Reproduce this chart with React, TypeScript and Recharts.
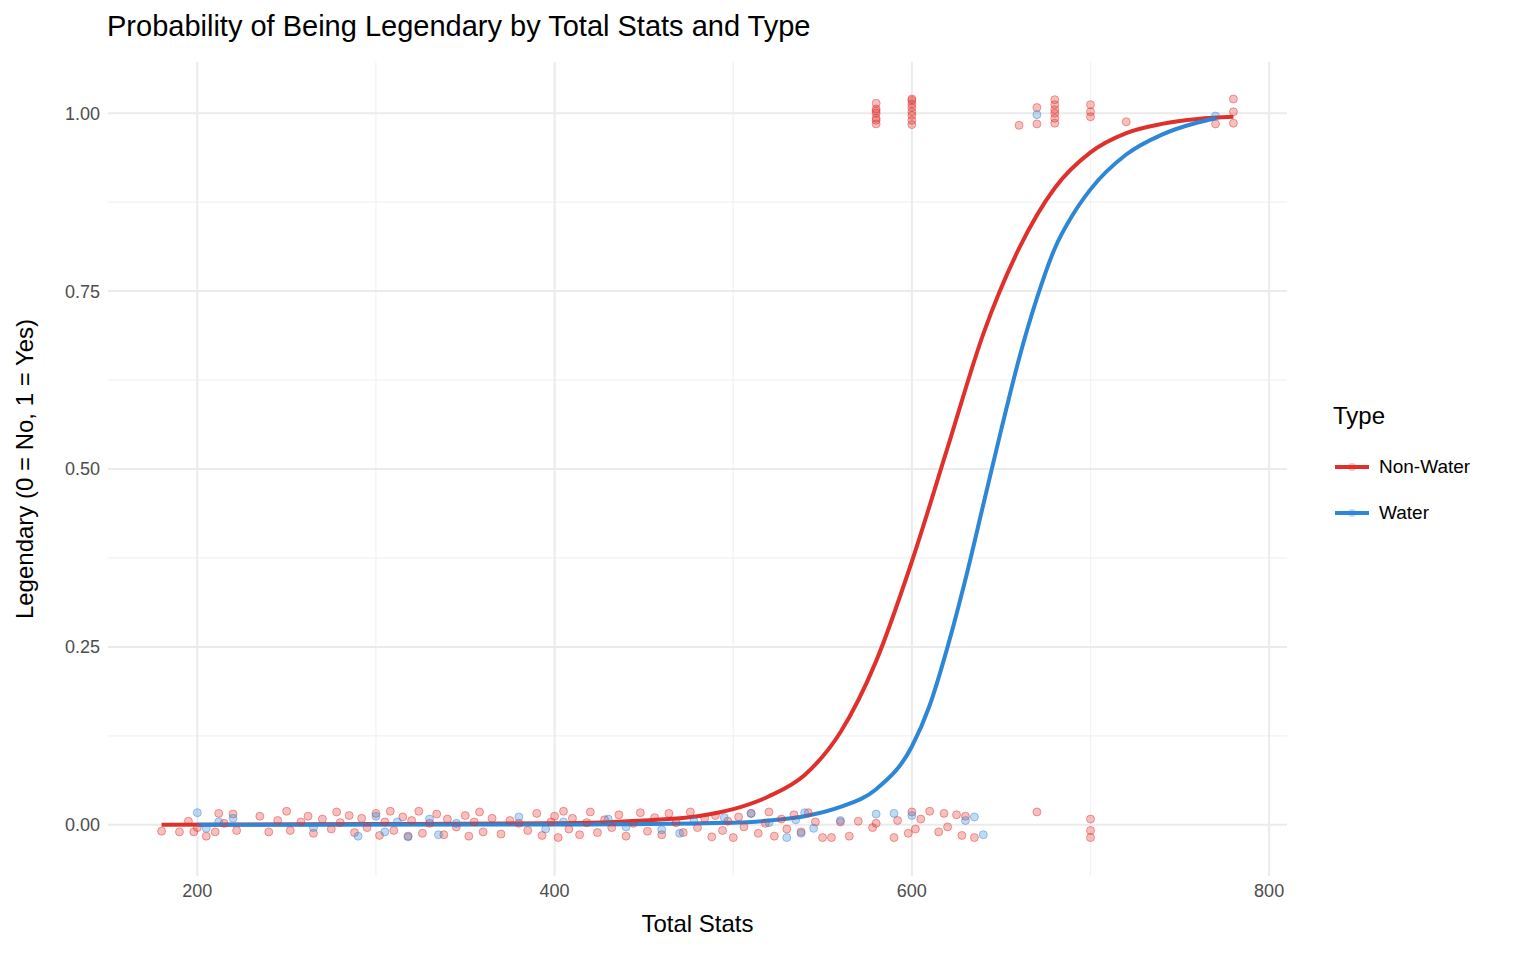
import { ComposedChart, Line, Scatter, XAxis, YAxis, ReferenceLine } from 'recharts';

const RED = '#E0302C';
const BLUE = '#2E86D6';

const xTicks = [200, 400, 600, 800];
const xMinor = [300, 500, 700];
const yTicks = [0, 0.25, 0.5, 0.75, 1];
const yMinor = [0.125, 0.375, 0.625, 0.875];

const nonWaterCurve = [
  { x: 180, y: 0 }, { x: 300, y: 0.001 }, { x: 400, y: 0.002 }, { x: 450, y: 0.006 },
  { x: 480, y: 0.012 }, { x: 500, y: 0.022 }, { x: 520, y: 0.04 }, { x: 540, y: 0.07 },
  { x: 560, y: 0.13 }, { x: 580, y: 0.23 }, { x: 600, y: 0.37 }, { x: 620, y: 0.53 },
  { x: 640, y: 0.69 }, { x: 660, y: 0.81 }, { x: 680, y: 0.895 }, { x: 700, y: 0.945 },
  { x: 720, y: 0.972 }, { x: 740, y: 0.985 }, { x: 760, y: 0.992 }, { x: 780, y: 0.995 },
];

const waterCurve = [
  { x: 200, y: 0 }, { x: 400, y: 0.0005 }, { x: 500, y: 0.003 }, { x: 520, y: 0.006 },
  { x: 540, y: 0.012 }, { x: 560, y: 0.025 }, { x: 580, y: 0.05 }, { x: 600, y: 0.11 },
  { x: 610, y: 0.168 }, { x: 620, y: 0.25 }, { x: 630, y: 0.345 }, { x: 640, y: 0.45 },
  { x: 650, y: 0.555 }, { x: 660, y: 0.655 }, { x: 670, y: 0.74 }, { x: 680, y: 0.81 },
  { x: 690, y: 0.857 }, { x: 700, y: 0.893 }, { x: 720, y: 0.942 }, { x: 740, y: 0.97 }, { x: 760, y: 0.987 }, { x: 770, y: 0.993 },
];

const nonWaterPoints = [
  [180, -0.009], [190, -0.01], [195, 0.005], [198, -0.01], [200, -0.004], [205, -0.016], [210, -0.01], [212, 0.016],
  [215, 0.002], [220, 0.015], [222, -0.008], [235, 0.012], [240, -0.01], [245, 0.006], [250, 0.019], [252, -0.008],
  [258, 0.004], [262, 0.012], [265, -0.012], [270, 0.008], [275, -0.006], [278, 0.018], [280, 0.003], [285, 0.013],
  [288, -0.011], [292, 0.009], [295, -0.004], [300, 0.016], [302, -0.015], [305, 0.004], [308, 0.019], [310, -0.008],
  [315, 0.011], [318, -0.016], [320, 0.006], [324, 0.019], [326, -0.012], [330, 0.002], [334, 0.015], [338, -0.014],
  [340, 0.008], [345, -0.003], [350, 0.013], [352, -0.016], [355, 0.004], [358, 0.018], [360, -0.01], [365, 0.009],
  [370, -0.013], [375, 0.006], [380, 0.002], [385, -0.008], [390, 0.016], [393, -0.015], [398, 0.004], [400, 0.012],
  [402, -0.018], [405, 0.019], [408, -0.006], [410, 0.009], [414, -0.014], [418, 0.003], [420, 0.018], [424, -0.011],
  [428, 0.007], [432, -0.004], [436, 0.014], [440, -0.016], [444, 0.002], [448, 0.017], [452, -0.009], [456, 0.01],
  [460, -0.014], [464, 0.016], [468, 0.003], [472, -0.011], [476, 0.018], [480, -0.004], [484, 0.009], [488, -0.017],
  [490, 0.013], [494, -0.008], [497, 0.005], [500, -0.018], [503, 0.011], [506, -0.003], [510, 0.016], [514, -0.012],
  [518, 0.002], [520, 0.018], [523, -0.016], [527, 0.008], [530, -0.006], [534, 0.014], [538, -0.01], [542, 0.017],
  [546, 0.004], [550, -0.018], [555, -0.018], [560, 0.004], [565, -0.016], [570, 0.005], [578, -0.004], [580, 0.002],
  [590, -0.018], [592, 0.006], [598, -0.012], [600, 0.018], [602, -0.006], [605, 0.008], [610, 0.019], [615, -0.01],
  [618, 0.016], [620, -0.003], [625, 0.014], [628, -0.015], [630, 0.012], [635, -0.018], [670, 0.018], [700, 0.008],
  [700, -0.008], [700, -0.018],
  [580, 0.985], [580, 0.993], [580, 1.0], [580, 1.006], [580, 1.014], [580, 0.99], [580, 1.003],
  [600, 0.984], [600, 0.99], [600, 0.997], [600, 1.002], [600, 1.008], [600, 1.013], [600, 1.018], [600, 1.02],
  [660, 0.983], [670, 0.985], [670, 1.008], [680, 0.986], [680, 0.993], [680, 1.0], [680, 1.005], [680, 1.012], [680, 1.019],
  [700, 0.995], [700, 1.002], [700, 1.012], [720, 0.988], [770, 0.985], [780, 0.986], [780, 1.002], [780, 1.02],
].map(([x, y]) => ({ x, y }));

const waterPoints = [
  [200, 0.017], [205, -0.005], [212, 0.004], [220, 0.009], [265, -0.004], [290, -0.016], [300, 0.012], [305, -0.01],
  [312, 0.004], [318, -0.017], [330, 0.008], [335, -0.014], [345, 0.002], [380, 0.011], [395, -0.006], [405, 0.004],
  [430, 0.008], [440, -0.003], [460, -0.007], [470, -0.012], [478, 0.005], [495, 0.01], [510, 0.016], [520, 0.003],
  [530, -0.018], [535, 0.007], [538, -0.012], [540, 0.017], [545, -0.005], [560, 0.006], [580, 0.015], [590, 0.016],
  [600, 0.013], [630, 0.006], [635, 0.011], [640, -0.014], [670, 0.998], [770, 0.996],
].map(([x, y]) => ({ x, y }));

const dot = (color: string) => (p: any) => (
  <circle cx={p.cx} cy={p.cy} r={4} fill={color} fillOpacity={0.3} stroke={color} strokeOpacity={0.45} strokeWidth={1} />
);

export default function App() {
  return (
    <div style={{ position: 'absolute', left: 0, top: 0, width: 1536, height: 960, background: '#fff', fontFamily: 'Helvetica, Arial, "Liberation Sans", sans-serif' }}>
      <div style={{ position: 'absolute', left: 107, top: 10, fontSize: 29, color: '#000' }}>
        Probability of Being Legendary by Total Stats and Type
      </div>
      <ComposedChart width={1536} height={960} margin={{ top: 62, right: 249, bottom: 24, left: 48 }}>
        {xMinor.map((v) => <ReferenceLine key={'x' + v} x={v} stroke="#f2f2f2" strokeWidth={1.2} />)}
        {yMinor.map((v) => <ReferenceLine key={'y' + v} y={v} stroke="#f2f2f2" strokeWidth={1.2} />)}
        {xTicks.map((v) => <ReferenceLine key={'X' + v} x={v} stroke="#ebebeb" strokeWidth={2} />)}
        {yTicks.map((v) => <ReferenceLine key={'Y' + v} y={v} stroke="#ebebeb" strokeWidth={2} />)}
        <XAxis type="number" dataKey="x" domain={[150, 810]} ticks={xTicks} height={60} axisLine={false} tickLine={false}
          tick={{ fill: '#4d4d4d', fontSize: 18 }} allowDataOverflow
          label={{ value: 'Total Stats', position: 'insideBottom', offset: 4, fill: '#000', fontSize: 24 }} />
        <YAxis type="number" dataKey="y" domain={[-0.072, 1.072]} ticks={yTicks} width={60} axisLine={false} tickLine={false}
          tick={{ fill: '#4d4d4d', fontSize: 18 }} tickFormatter={(v) => v.toFixed(2)} allowDataOverflow
          label={{ value: 'Legendary (0 = No, 1 = Yes)', angle: -90, position: 'insideLeft', offset: -24, fill: '#000', fontSize: 24, style: { textAnchor: 'middle' } }} />
        <Scatter data={nonWaterPoints} fill={RED} shape={dot(RED)} isAnimationActive={false} />
        <Scatter data={waterPoints} fill={BLUE} shape={dot(BLUE)} isAnimationActive={false} />
        <Line data={nonWaterCurve} dataKey="y" type="monotone" stroke={RED} strokeWidth={4} dot={false} isAnimationActive={false} />
        <Line data={waterCurve} dataKey="y" type="monotone" stroke={BLUE} strokeWidth={4} dot={false} isAnimationActive={false} />
      </ComposedChart>
      <div style={{ position: 'absolute', left: 1333, top: 402, fontSize: 24, color: '#000' }}>Type</div>
      {[{ n: 'Non-Water', c: RED, t: 455 }, { n: 'Water', c: BLUE, t: 501 }].map((e) => (
        <div key={e.n} style={{ position: 'absolute', left: 1334, top: e.t, display: 'flex', alignItems: 'center' }}>
          <svg width={36} height={24}>
            <line x1={1} y1={12} x2={35} y2={12} stroke={e.c} strokeWidth={4} />
            <circle cx={18} cy={12} r={4} fill={e.c} fillOpacity={0.3} />
          </svg>
          <span style={{ marginLeft: 9, fontSize: 19, color: '#000' }}>{e.n}</span>
        </div>
      ))}
    </div>
  );
}
